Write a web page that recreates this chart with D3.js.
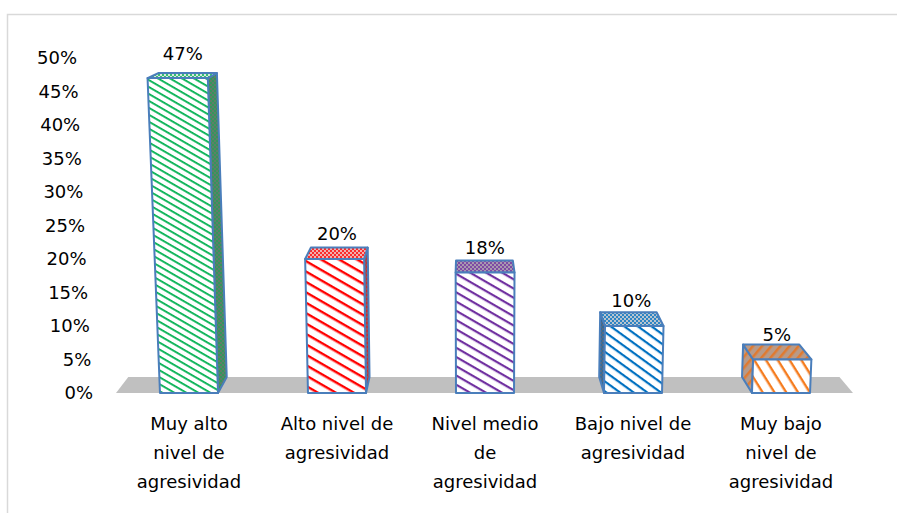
<!DOCTYPE html>
<html><head><meta charset="utf-8">
<script src="https://cdn.jsdelivr.net/npm/d3@7"></script>
<style>html,body{margin:0;padding:0;background:#fff;} svg{display:block;}</style>
</head><body>
<script>
const categories = ["Muy alto nivel de agresividad","Alto nivel de agresividad","Nivel medio de agresividad","Bajo nivel de agresividad","Muy bajo nivel de agresividad"];
const labelLines = [["Muy alto","nivel de","agresividad"],["Alto nivel de","agresividad"],["Nivel medio","de","agresividad"],["Bajo nivel de","agresividad"],["Muy bajo","nivel de","agresividad"]];
const values = [47,20,18,10,5];
const valueLabels = ["47%","20%","18%","10%","5%"];
const tickValues = [0,5,10,15,20,25,30,35,40,45,50];
const tickLabels = ["0%","5%","10%","15%","20%","25%","30%","35%","40%","45%","50%"];
const seriesColors = ["#00b050","#ff0000","#7030a0","#0070c0","#f57c1f"];
const topBase = ["#d8e8dc","#f0b0b0","#a898b0","#b8c4d0","#b89a88"];
const sideBase = ["#5f7f68","#a05050","#6a5a78","#5a6a80","#c08050"];

const W = 897, H = 513;
const FONT = "DejaVu Sans, Verdana, sans-serif";
const svg = d3.select("body").append("svg").attr("width", W).attr("height", H);
const defs = svg.append("defs");

svg.append("rect").attr("x",7.5).attr("y",14.5).attr("width",900).attr("height",520)
  .attr("fill","#fff").attr("stroke","#d9d9d9").attr("stroke-width",1.5);

const Y0 = 393;
const y = d3.scaleLinear().domain([0,50]).range([Y0,58]);
const x = d3.scaleBand().domain(categories).range([115,855]).paddingInner(0.608).paddingOuter(0.304);

const VPX = 480, VPY = 8500;
const DX = 467, DY = -67, R = 0.035;
function front(xb, yy){ return [VPX + (xb - VPX)*(VPY - yy)/(VPY - Y0), yy]; }
function back(p){ return [p[0] + R*(DX - p[0]), p[1] + R*(DY - p[1])]; }
const poly = pts => "M" + pts.map(p => p[0].toFixed(2)+","+p[1].toFixed(2)).join("L") + "Z";

const stripeSpec = [
  {gap:6, angle:30, w:1.8},
  {gap:9, angle:30, w:2.4},
  {gap:8, angle:30, w:2.2},
  {gap:8, angle:36, w:2.2},
  {gap:10, angle:58, w:2.4}
];
seriesColors.forEach((c,i)=>{
  const s = stripeSpec[i];
  const p = defs.append("pattern").attr("id","st"+i).attr("patternUnits","userSpaceOnUse")
    .attr("width",20).attr("height",s.gap).attr("patternTransform","rotate("+s.angle+")");
  p.append("rect").attr("width",20).attr("height",s.gap).attr("fill","#fff");
  p.append("rect").attr("y",0).attr("width",20).attr("height",s.w).attr("fill",c);
  const t = defs.append("pattern").attr("id","tp"+i).attr("patternUnits","userSpaceOnUse")
    .attr("width",4).attr("height",4);
  t.append("rect").attr("width",4).attr("height",4).attr("fill",topBase[i]);
  t.append("rect").attr("width",2).attr("height",2).attr("fill",c).attr("opacity",0.75);
  t.append("rect").attr("x",2).attr("y",2).attr("width",2).attr("height",2).attr("fill",c).attr("opacity",0.75);
  const sd = defs.append("pattern").attr("id","sd"+i).attr("patternUnits","userSpaceOnUse")
    .attr("width",4).attr("height",4);
  sd.append("rect").attr("width",4).attr("height",4).attr("fill",sideBase[i]);
  sd.append("rect").attr("width",2).attr("height",2).attr("fill",c).attr("opacity",0.45);
  sd.append("rect").attr("x",2).attr("y",2).attr("width",2).attr("height",2).attr("fill",c).attr("opacity",0.45);
});
const os = defs.append("pattern").attr("id","os").attr("patternUnits","userSpaceOnUse")
  .attr("width",20).attr("height",7).attr("patternTransform","rotate(-50)");
os.append("rect").attr("width",20).attr("height",7).attr("fill","#b89a88");
os.append("rect").attr("width",20).attr("height",2.5).attr("fill","#e07a30");

const fl = [front(116,Y0), front(853,Y0)];
svg.append("path").attr("d", poly([fl[0], fl[1], back(fl[1]), back(fl[0])])).attr("fill","#c0c0c0");

svg.append("g").selectAll("text").data(tickValues).join("text")
  .attr("x", d => front(93, y(d))[0]).attr("y", d => y(d))
  .attr("dy","0.36em").attr("text-anchor","end")
  .attr("font-family",FONT).attr("font-size",18)
  .attr("fill","#000").text((d,i)=>tickLabels[i]);

const stroke = "#4a7ebb";
const g = svg.append("g");
categories.forEach((cat,i)=>{
  const x0 = x(cat), x1 = x(cat)+x.bandwidth();
  const yt = y(values[i]);
  const fbl = front(x0,Y0), fbr = front(x1,Y0), ftl = front(x0,yt), ftr = front(x1,yt);
  const btl = back(ftl), btr = back(ftr), bbl = back(fbl), bbr = back(fbr);
  const bg = g.append("g");
  if (ftr[0] < DX) {
    bg.append("path").attr("d",poly([fbr,ftr,btr,bbr])).attr("fill","url(#sd"+i+")")
      .attr("stroke",stroke).attr("stroke-width",2).attr("stroke-linejoin","round");
  } else if (ftl[0] > DX) {
    bg.append("path").attr("d",poly([fbl,ftl,btl,bbl])).attr("fill",i===4?"url(#os)":"url(#sd"+i+")")
      .attr("stroke",stroke).attr("stroke-width",2).attr("stroke-linejoin","round");
  }
  bg.append("path").attr("d",poly([ftl,ftr,btr,btl])).attr("fill",i===4?"url(#os)":"url(#tp"+i+")")
    .attr("stroke",stroke).attr("stroke-width",2).attr("stroke-linejoin","round");
  bg.append("path").attr("d",poly([fbl,fbr,ftr,ftl])).attr("fill","url(#st"+i+")")
    .attr("stroke",stroke).attr("stroke-width",2).attr("stroke-linejoin","round");
  const cx = (ftl[0]+ftr[0]+btl[0]+btr[0])/4;
  svg.append("text").attr("x",cx).attr("y",yt-25).attr("dy","0.36em").attr("text-anchor","middle")
    .attr("font-family",FONT).attr("font-size",18).attr("fill","#000")
    .text(valueLabels[i]);
  const t = svg.append("text").attr("text-anchor","middle")
    .attr("font-family",FONT).attr("font-size",18).attr("fill","#000");
  labelLines[i].forEach((ln,j)=>{
    t.append("tspan").attr("x", x0 + x.bandwidth()/2).attr("y", 424 + j*29).attr("dy","0.36em").text(ln);
  });
});
</script>
</body></html>
